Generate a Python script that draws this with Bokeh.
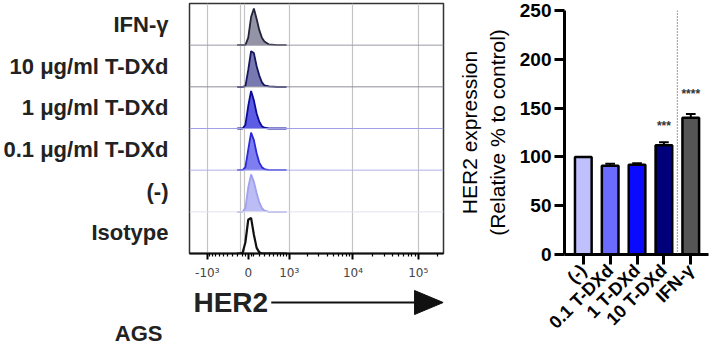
import numpy as np
from bokeh.plotting import figure
from bokeh.layouts import row, column
from bokeh.models import FixedTicker, Range1d, Span
from bokeh.core.properties import value
from bokeh.embed import file_html
from bokeh.resources import INLINE

# ---------------- flow cytometry panel data ----------------
samples = ["Isotype", "(-)", "0.1 μg/ml T-DXd", "1 μg/ml T-DXd", "10 μg/ml T-DXd", "IFN-γ"]
hist_x = [-200, -150, -100, -50, 0, 50, 100, 150, 200, 250, 300, 400, 600, 900]
hist_isotype = [0, 0, 0.02, 0.30, 0.90, 0.95, 0.50, 0.15, 0.03, 0, 0, 0, 0, 0]
hist_neg = [0, 0, 0, 0.10, 0.65, 1.00, 0.80, 0.50, 0.25, 0.10, 0.03, 0, 0, 0]
hist_01 = [0, 0, 0, 0.08, 0.55, 1.00, 0.80, 0.45, 0.20, 0.08, 0.03, 0, 0, 0]
hist_1 = [0, 0, 0, 0.10, 0.60, 1.00, 0.75, 0.40, 0.18, 0.06, 0.02, 0, 0, 0]
hist_10 = [0, 0, 0, 0.02, 0.45, 0.95, 0.90, 0.55, 0.30, 0.12, 0.04, 0.01, 0, 0]
hist_ifn = [0, 0, 0, 0, 0.20, 0.75, 0.98, 0.70, 0.40, 0.20, 0.10, 0.02, 0, 0]
hists = [hist_isotype, hist_neg, hist_01, hist_1, hist_10, hist_ifn]
hist_fill = [None, "#b6b6f4", "#7070f0", "#4a4ae2", "#6a6aa8", "#8a879c"]
hist_line = ["#111111", "#a0a0f0", "#2a2ad8", "#0c0c9a", "#161660", "#23233a"]
sep_colors = ["#e2e2ec", "#b0b0ee", "#a0a0e6", "#8c8c9c", "#9a9aa8"]

flow_ticks = [-1000, 0, 1000, 10000, 100000]
flow_tick_labels = ["-10³", "0", "10³", "10⁴", "10⁵"]
flow_minor = ([-900, -800, -700, -600, -500, -400, -300, -200, -100, -50, 50, 100]
              + [200, 300, 400, 500, 600, 700, 800, 900]
              + [2000, 3000, 4000, 5000, 6000, 7000, 8000, 9000]
              + [20000, 30000, 40000, 50000, 60000, 70000, 80000, 90000, 200000])
flow_grid = [-1000, -140, -65, 1000, 10000, 100000]
axis_title = "HER2"
cell_line = "AGS"

# ---------------- bar chart data ----------------
bar_labels = ["(-)", "0.1 T-DXd", "1 T-DXd", "10 T-DXd", "IFN-γ"]
bar_values = [100, 91, 92, 112, 140]
bar_errors = [0, 2, 1.5, 3, 4]
bar_colors = ["#c0c0ff", "#6b6bff", "#0a0aff", "#00007a", "#555555"]
sig_labels = ["", "", "", "***", "****"]
sig_y = [0, 0, 0, 132, 164]

COF = 500.0


def tr(v):
    return np.arcsinh(np.asarray(v, dtype=float) / COF)


FONT = "Liberation Sans"
XR = (-2.07, 6.88)

# ---------------- flow figure ----------------
pf = figure(width=455, height=282, x_range=Range1d(*XR), y_range=Range1d(0, 6),
            output_backend="svg", toolbar_location=None,
            min_border_left=188, min_border_right=12, min_border_top=3, min_border_bottom=25)
pf.outline_line_color = "#333333"
pf.outline_line_width = 1.5
pf.ygrid.visible = False
pf.xgrid.ticker = FixedTicker(ticks=list(tr(flow_grid)))
pf.xgrid.grid_line_color = "#c4c4c4"
pf.xgrid.grid_line_width = 1.2

xt = tr(flow_ticks)
pf.xaxis.ticker = FixedTicker(ticks=list(xt), minor_ticks=list(tr(flow_minor)))
pf.xaxis.major_label_overrides = {float(t): l for t, l in zip(xt, flow_tick_labels)}
pf.xaxis.axis_line_color = "#111111"
pf.xaxis.axis_line_width = 2
pf.xaxis.major_tick_in = 0
pf.xaxis.major_tick_out = 6
pf.xaxis.minor_tick_in = 0
pf.xaxis.minor_tick_out = 3
pf.xaxis.major_tick_line_width = 2
pf.xaxis.minor_tick_line_width = 1.2
pf.xaxis.major_label_text_font = "DejaVu Sans"
pf.xaxis.major_label_text_font_size = "12px"
pf.xaxis.major_label_text_color = "#444444"
pf.xaxis.major_label_standoff = 6

yt = [i + 0.5 for i in range(len(samples))]
pf.yaxis.ticker = FixedTicker(ticks=yt)
pf.yaxis.major_label_overrides = {float(t): s for t, s in zip(yt, samples)}
pf.yaxis.axis_line_color = None
pf.yaxis.major_tick_line_color = None
pf.yaxis.minor_tick_line_color = None
pf.yaxis.major_label_standoff = 15
pf.yaxis.major_label_text_font = FONT
pf.yaxis.major_label_text_font_style = "bold"
pf.yaxis.major_label_text_font_size = "22px"
pf.yaxis.major_label_text_color = "#222222"

for i, c in enumerate(sep_colors):
    pf.add_layout(Span(location=i + 1, dimension="width", line_color=c, line_width=1))

hx = tr(hist_x)
for i, (h, fc, lc) in enumerate(zip(hists, hist_fill, hist_line)):
    ys = i + 0.9 * np.array(h)
    if fc is not None:
        pf.varea(x=hx, y1=np.full(len(hx), float(i)), y2=ys, fill_color=fc, fill_alpha=0.9)
    pf.line(hx, ys, line_color=lc, line_width=1.8 if fc else 2.2)

# ---------------- HER2 arrow label (shares the flow x range) ----------------
pa = figure(width=455, height=64, x_range=pf.x_range, y_range=Range1d(64, 0),
            output_backend="svg", toolbar_location=None,
            min_border_left=188, min_border_right=12, min_border_top=0, min_border_bottom=0)
pa.xaxis.visible = False
pa.grid.visible = False
pa.outline_line_color = None
pa.text(x=[-1.93], y=[20], text=[axis_title], text_font=value(FONT), text_font_style="bold",
        text_font_size="28px", text_color="#222222", text_align="left", text_baseline="middle")
pa.segment(x0=[0.81], y0=[20], x1=[6.0], y1=[20], line_color="#111111", line_width=2)
pa.patch(x=[5.86, 6.87, 5.86], y=[8, 20, 32], fill_color="#111111", line_color="#111111")
# cell-line name shown through the (otherwise blank) left axis of this strip
pa.yaxis.ticker = FixedTicker(ticks=[51])
pa.yaxis.major_label_overrides = {51: cell_line}
pa.yaxis.axis_line_color = None
pa.yaxis.major_tick_line_color = None
pa.yaxis.minor_tick_line_color = None
pa.yaxis.major_label_standoff = 21
pa.yaxis.major_label_text_font = FONT
pa.yaxis.major_label_text_font_style = "bold"
pa.yaxis.major_label_text_font_size = "22px"
pa.yaxis.major_label_text_color = "#222222"

# ---------------- bar figure ----------------
idx = np.arange(len(bar_labels))
vals = np.array(bar_values, dtype=float)
errs = np.array(bar_errors, dtype=float)

pb = figure(width=256, height=346, x_range=Range1d(-0.70, 4.66), y_range=Range1d(0, 250),
            output_backend="svg", toolbar_location=None,
            min_border_left=107, min_border_right=3, min_border_top=10, min_border_bottom=92)
pb.outline_line_color = None
pb.grid.visible = False

has_err = errs > 0
pb.segment(x0=idx[has_err], y0=vals[has_err], x1=idx[has_err], y1=(vals + errs)[has_err],
           line_color="black", line_width=2)
pb.segment(x0=idx[has_err] - 0.18, y0=(vals + errs)[has_err], x1=idx[has_err] + 0.18,
           y1=(vals + errs)[has_err], line_color="black", line_width=2)
pb.vbar(x=idx, top=vals, width=0.62, fill_color=bar_colors, line_color="black", line_width=2.5)

sig_idx = [i for i, s in enumerate(sig_labels) if s]
pb.text(x=[idx[i] for i in sig_idx], y=[sig_y[i] for i in sig_idx], text=[sig_labels[i] for i in sig_idx],
        text_font=value(FONT), text_font_style="bold", text_font_size="12px", text_color="#333333",
        text_align="center", text_baseline="middle")

pb.add_layout(Span(location=3.5, dimension="height", line_color="#333333", line_width=1, line_dash="1 2"))

pb.yaxis.ticker = FixedTicker(ticks=[0, 50, 100, 150, 200, 250])
pb.yaxis.minor_tick_line_color = None
pb.xaxis.ticker = FixedTicker(ticks=list(idx))
pb.xaxis.major_label_overrides = {int(i): l for i, l in zip(idx, bar_labels)}
pb.xaxis.major_label_orientation = np.pi / 4
for ax in (pb.xaxis, pb.yaxis):
    ax.axis_line_width = 3
    ax.axis_line_color = "black"
    ax.major_tick_line_width = 3
    ax.major_tick_in = 0
    ax.major_tick_out = 10
    ax.major_label_text_font = FONT
    ax.major_label_text_font_style = "bold"
    ax.major_label_text_color = "black"
pb.yaxis.major_label_text_font_size = "19px"
pb.xaxis.major_label_text_font_size = "18px"
pb.yaxis.major_label_standoff = 3
pb.xaxis.major_label_standoff = 3
pb.yaxis.axis_label = "HER2 expression\n(Relative % to control)"
pb.yaxis.axis_label_text_font = FONT
pb.yaxis.axis_label_text_font_style = "normal"
pb.yaxis.axis_label_text_font_size = "21px"
pb.yaxis.axis_label_text_color = "black"
pb.yaxis.axis_label_standoff = 8

layout = row(column(pf, pa), pb)
open("out.html", "w").write(file_html(layout, INLINE))
